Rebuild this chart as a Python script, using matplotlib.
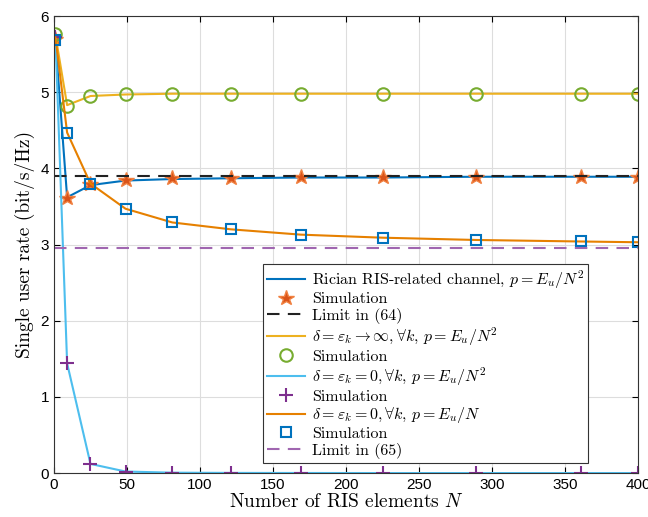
import numpy as np
import matplotlib
matplotlib.use("Agg")
import matplotlib.pyplot as plt

# number of RIS elements
N = [1, 9, 25, 49, 81, 121, 169, 225, 289, 361, 400]

rician = [5.68, 3.62, 3.78, 3.84, 3.86, 3.87, 3.88, 3.88, 3.89, 3.89, 3.89]
rician_sim = [5.70, 3.61, 3.79, 3.85, 3.87, 3.88, 3.89, 3.89, 3.89, 3.89, 3.89]
limit_64 = 3.90

delta_inf = [5.75, 4.83, 4.95, 4.97, 4.98, 4.98, 4.98, 4.98, 4.98, 4.98, 4.98]
delta_inf_sim = [5.76, 4.82, 4.95, 4.97, 4.98, 4.98, 4.98, 4.98, 4.98, 4.98, 4.98]

delta0_N2 = [5.72, 1.44, 0.12, 0.02, 0.005, 0.002, 0.001, 0.0, 0.0, 0.0, 0.0]
delta0_N2_sim = [5.72, 1.44, 0.12, 0.02, 0.005, 0.002, 0.001, 0.0, 0.0, 0.0, 0.0]

delta0_N = [5.72, 4.47, 3.80, 3.47, 3.29, 3.20, 3.13, 3.09, 3.06, 3.04, 3.03]
delta0_N_sim = [5.68, 4.47, 3.80, 3.47, 3.29, 3.20, 3.12, 3.09, 3.06, 3.04, 3.03]
limit_65 = 2.95

plt.rcParams['mathtext.fontset'] = 'cm'
plt.rcParams['font.family'] = ['Liberation Sans', 'DejaVu Sans']

fig, ax = plt.subplots(figsize=(6.48, 5.17), dpi=100)
fig.subplots_adjust(left=0.0833, right=0.9846, top=0.969, bottom=0.085)

lw = 1.5
ax.plot(N, rician, color='#0072BD', lw=lw, label=r'Rician RIS-related channel, $p=E_u/N^2$')
ax.plot(N, rician_sim, ls='none', marker='*', ms=11.5, mfc='#D95319', mec='#F08040',
        label='Simulation')
ax.axhline(limit_64, color='#222222', ls=(0, (6, 4)), lw=lw, label='Limit in (64)')
ax.plot(N, delta_inf, color='#EDB120', lw=lw,
        label=r'$\delta=\varepsilon_k\rightarrow\infty, \forall k$, $p=E_u/N^2$')
ax.plot(N, delta_inf_sim, ls='none', marker='o', ms=9, mfc='none', mec='#77AC30', mew=1.5,
        label='Simulation')
ax.plot(N, delta0_N2, color='#4DBEEE', lw=lw,
        label=r'$\delta=\varepsilon_k=0, \forall k$, $p=E_u/N^2$')
ax.plot(N, delta0_N2_sim, ls='none', marker='+', ms=10, mec='#7E2F8E', mew=1.5,
        label='Simulation')
ax.plot(N, delta0_N, color='#E68000', lw=lw,
        label=r'$\delta=\varepsilon_k=0, \forall k$, $p=E_u/N$')
ax.plot(N, delta0_N_sim, ls='none', marker='s', ms=7, mfc='none', mec='#0072BD', mew=1.5,
        label='Simulation')
ax.axhline(limit_65, color='#A066B0', ls=(0, (6, 4)), lw=lw, label='Limit in (65)')

ax.set_xlim(0, 400)
ax.set_ylim(0, 6)
ax.set_xticks(np.arange(0, 401, 50))
ax.set_yticks(np.arange(0, 7, 1))
ax.grid(True, color='#DDDDDD', lw=0.8)
ax.tick_params(direction='in', labelsize=11, top=True, right=True, length=4)
for s in ax.spines.values():
    s.set_color('#333333')
    s.set_linewidth(0.8)

ax.set_xlabel(r'Number of RIS elements $N$', family='cmr10', fontsize=14, labelpad=1)
ax.set_ylabel('Single user rate (bit/s/Hz)', family='cmr10', fontsize=14, labelpad=4)

leg = ax.legend(loc='lower right', bbox_to_anchor=(0.915, 0.023),
                prop={'family': 'cmr10', 'size': 11.5}, fancybox=False, edgecolor='#333333',
                framealpha=1, labelspacing=0.1, handlelength=2.4, borderpad=0.25,
                handletextpad=0.4, borderaxespad=0)
leg.get_frame().set_linewidth(0.8)

fig.savefig('out.png', dpi=100)
